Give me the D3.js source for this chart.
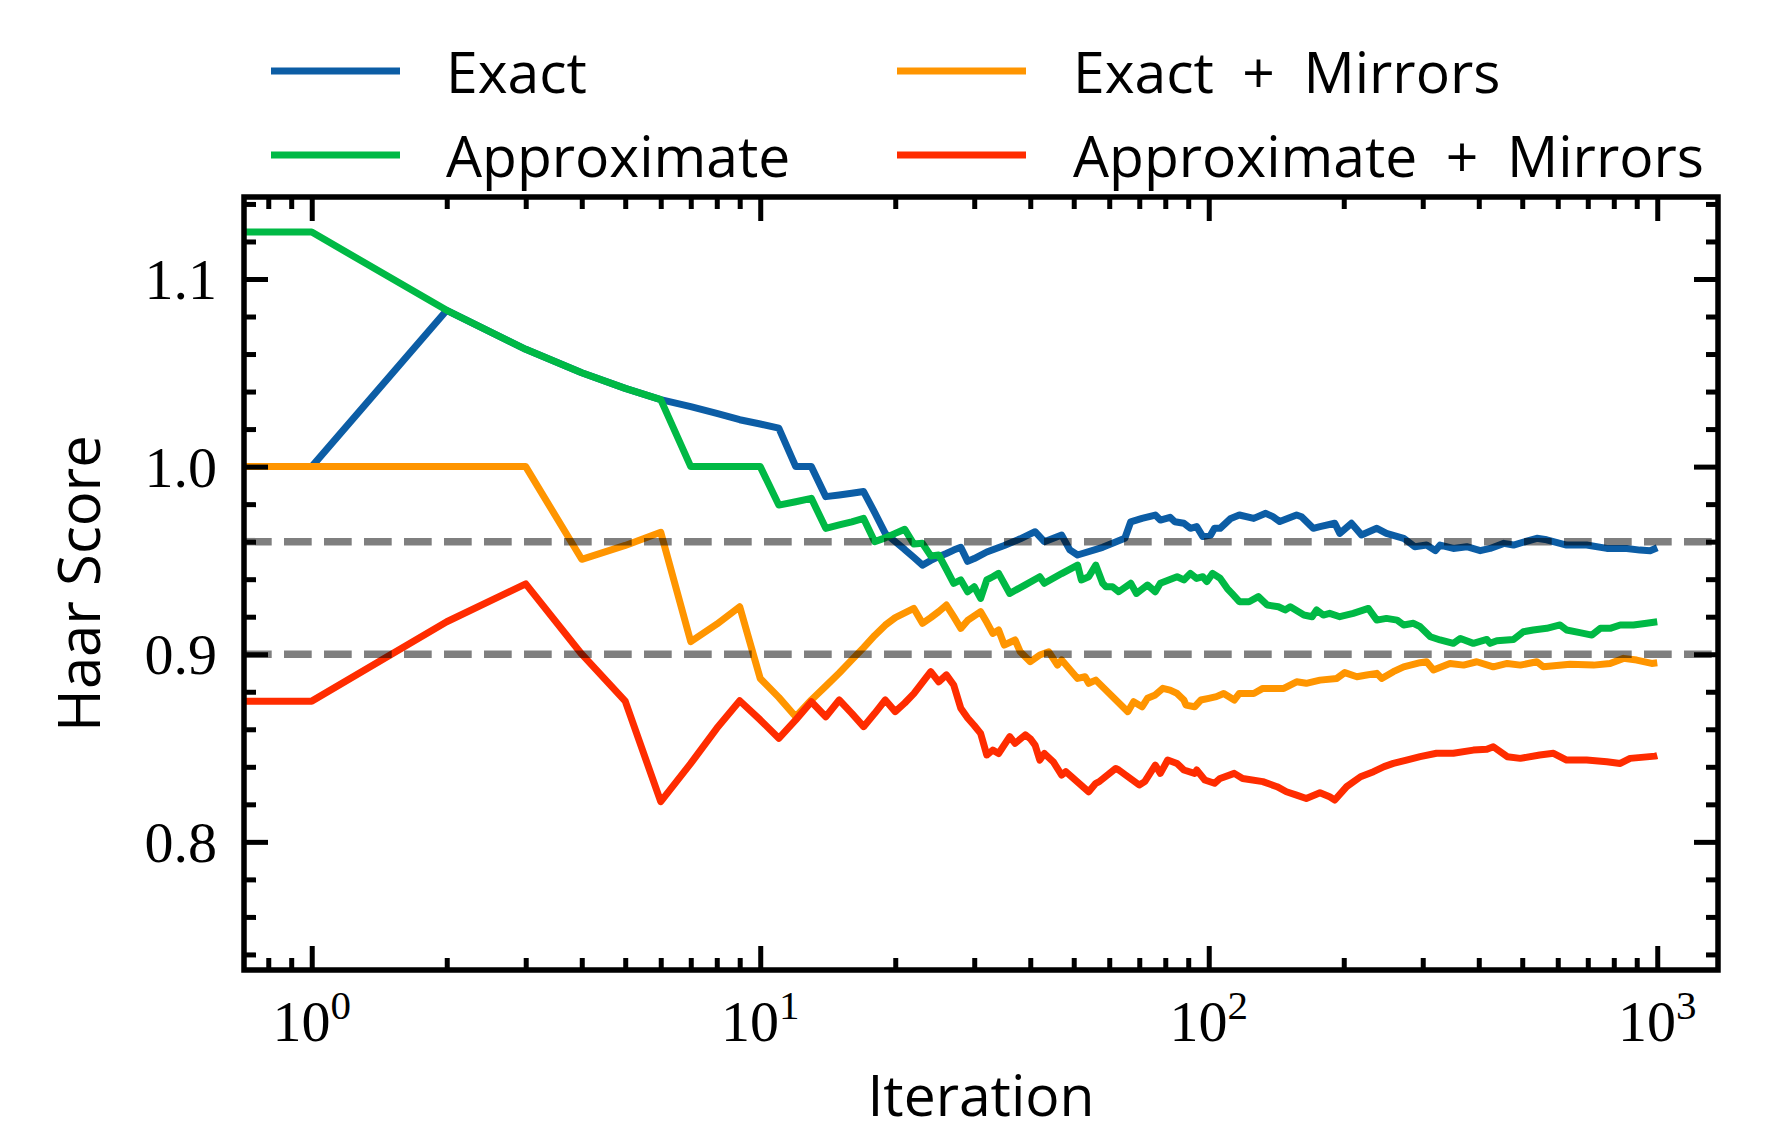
<!DOCTYPE html>
<html><head><meta charset="utf-8">
<script src="https://cdn.jsdelivr.net/npm/d3@7"></script>
<style>html,body{margin:0;padding:0;background:#fff;} svg{display:block;}</style>
</head><body><svg id="chart" width="1781" height="1132"></svg>
<script>
// ---------------- data ----------------
const seriesNames = ["Exact", "Approximate", "Exact\u2002+\u2002Mirrors", "Approximate\u2002+\u2002Mirrors"];
const seriesColors = ["#0C5DA5", "#00B945", "#FF9500", "#FF2C00"];

// [iteration, Haar score]
const exact = [[1,1.0],[2,1.0833],[3,1.0625],[4,1.05],[5,1.0417],[6,1.0357],[7,1.032],[8,1.0284],[9,1.025],[10,1.0227],[11,1.0205],[12,1.0],[13,1.0],[14,0.984],[15,0.9849],[16,0.9858],[17,0.9867],[18,0.9755],[19,0.9644],[20,0.960],[21,0.9558],[22,0.9516],[23,0.9475],[24,0.950],[25,0.952],[26,0.9537],[27,0.9555],[28,0.957],[29,0.9495],[30,0.951],[32,0.9545],[35,0.958],[38,0.9615],[41,0.9653],[43,0.96],[47,0.9635],[49,0.9556],[51,0.9529],[58,0.957],[65,0.9618],[67,0.9706],[71,0.9724],[76,0.9742],[78,0.9715],[82,0.973],[84,0.9706],[88,0.9698],[91,0.9671],[94,0.968],[97,0.9627],[101,0.9635],[103,0.9671],[106,0.9671],[112,0.9724],[117,0.9742],[126,0.9724],[134,0.9751],[139,0.9733],[144,0.9707],[157,0.9742],[161,0.9733],[171,0.9671],[177,0.968],[191,0.9698],[196,0.9644],[208,0.9698],[219,0.9636],[237,0.9671],[249,0.9644],[272,0.9618],[288,0.9573],[306,0.9582],[320,0.9552],[328,0.9582],[351,0.9564],[376,0.9573],[403,0.9552],[424,0.9564],[455,0.9591],[478,0.9582],[539,0.9618],[567,0.961],[628,0.9582],[696,0.9582],[772,0.9564],[855,0.9564],[915,0.9555],[964,0.9552],[1000,0.9568]];

const approximate = [[1,1.125],[2,1.0833],[3,1.0625],[4,1.05],[5,1.0417],[6,1.0357],[7,1.0],[8,1.0],[9,1.0],[10,1.0],[11,0.9795],[12,0.9813],[13,0.9831],[14,0.9671],[15,0.9689],[16,0.9706],[17,0.9724],[18,0.96],[19,0.962],[20,0.9644],[21,0.9666],[22,0.9587],[23,0.9591],[24,0.9524],[25,0.9529],[26,0.9453],[27,0.9378],[28,0.9396],[29,0.9333],[30,0.936],[31,0.9298],[32,0.9396],[33,0.9413],[34,0.9431],[36,0.9324],[39,0.937],[42,0.9413],[43,0.9378],[47,0.943],[51,0.9475],[52,0.9396],[54,0.9413],[56,0.9475],[58,0.9378],[59,0.936],[61,0.936],[63,0.9333],[67,0.9378],[69,0.9324],[73,0.9369],[76,0.9333],[78,0.9378],[85,0.9413],[88,0.9396],[91,0.9431],[94,0.9404],[97,0.9413],[99,0.9387],[102,0.9431],[106,0.9405],[110,0.935],[113,0.932],[117,0.928],[123,0.928],[129,0.9307],[135,0.9262],[143,0.9253],[148,0.9236],[152,0.9253],[163,0.9209],[170,0.92],[174,0.9236],[180,0.9209],[186,0.9218],[196,0.92],[210,0.9218],[227,0.9244],[237,0.9182],[249,0.9191],[263,0.9182],[272,0.9156],[286,0.9165],[296,0.9147],[312,0.9093],[328,0.9076],[351,0.9058],[364,0.9084],[389,0.9058],[417,0.9079],[424,0.9058],[439,0.9072],[478,0.9079],[503,0.912],[529,0.9129],[567,0.9138],[607,0.9156],[628,0.9129],[672,0.9115],[715,0.9102],[747,0.9138],[785,0.9138],[827,0.9156],[885,0.9156],[947,0.9165],[1000,0.9173]];

const exactMirrors = [[1,1.0],[2,1.0],[3,1.0],[4,0.9506],[5,0.958],[6,0.965],[7,0.9067],[8,0.916],[9,0.9253],[10,0.8871],[11,0.877],[12,0.8667],[13,0.8756],[14,0.883],[15,0.89],[16,0.897],[17,0.9035],[18,0.91],[19,0.9155],[20,0.9195],[21,0.922],[22,0.9244],[23,0.9165],[24,0.9195],[25,0.9227],[26,0.9262],[27,0.92],[28,0.9138],[29,0.918],[31,0.9227],[32,0.917],[33,0.9111],[34,0.9129],[35,0.9049],[37,0.9076],[38,0.9013],[40,0.896],[42,0.8996],[44,0.9013],[46,0.8942],[47,0.8969],[51,0.8871],[53,0.888],[54,0.8845],[56,0.8862],[66,0.8694],[68,0.8747],[71,0.872],[73,0.8765],[76,0.8783],[79,0.8818],[82,0.8809],[85,0.8791],[88,0.8756],[89,0.8729],[93,0.872],[96,0.8756],[100,0.8765],[104,0.8774],[108,0.8791],[114,0.8756],[117,0.8791],[126,0.8791],[132,0.8818],[147,0.8818],[157,0.8853],[165,0.8845],[177,0.8862],[193,0.8871],[201,0.8902],[214,0.888],[225,0.8889],[237,0.8898],[243,0.8871],[258,0.8907],[272,0.8933],[296,0.8955],[306,0.896],[317,0.8916],[345,0.8951],[370,0.8942],[396,0.896],[431,0.8933],[463,0.8951],[495,0.8942],[539,0.896],[557,0.8933],[639,0.8947],[721,0.8942],[785,0.8951],[841,0.8978],[900,0.8969],[972,0.8951],[1000,0.8955]];

const approximateMirrors = [[1,0.875],[2,0.9173],[3,0.9375],[4,0.9],[5,0.875],[6,0.8214],[7,0.8418],[8,0.8605],[9,0.8752],[10,0.865],[11,0.8552],[12,0.865],[13,0.8747],[14,0.8667],[15,0.8756],[16,0.8685],[17,0.8614],[18,0.8685],[19,0.8756],[20,0.8694],[21,0.874],[22,0.879],[23,0.885],[24,0.8907],[25,0.8853],[26,0.889],[27,0.8836],[28,0.8712],[29,0.866],[30,0.862],[31,0.8578],[32,0.8463],[33,0.8489],[34,0.8471],[36,0.8561],[37,0.8525],[39,0.857],[40,0.855],[41,0.8516],[42,0.8436],[43,0.8471],[45,0.8427],[47,0.8356],[48,0.8374],[54,0.8267],[56,0.8312],[57,0.8321],[62,0.8391],[63,0.8383],[70,0.8303],[72,0.8321],[76,0.8409],[78,0.8365],[81,0.8436],[85,0.8418],[88,0.8383],[93,0.8365],[94,0.8383],[98,0.833],[103,0.8312],[106,0.8338],[114,0.8365],[119,0.8338],[132,0.8321],[142,0.8294],[149,0.8267],[157,0.8249],[165,0.8231],[177,0.8262],[186,0.824],[191,0.8223],[203,0.8294],[218,0.8347],[233,0.8374],[246,0.8401],[258,0.8418],[276,0.8436],[296,0.8454],[322,0.8472],[351,0.8472],[389,0.8489],[417,0.8493],[431,0.8507],[463,0.8454],[495,0.8445],[547,0.8463],[587,0.8472],[628,0.8436],[696,0.8436],[772,0.8427],[827,0.8418],[870,0.8445],[989,0.8457],[1000,0.846]];

const referenceLines = [0.96, 0.9];
const yMajorTicks = [0.8, 0.9, 1.0, 1.1];
const yTickLabels = ["0.8", "0.9", "1.0", "1.1"];
const yMinorTicks = [0.74,0.76,0.78,0.82,0.84,0.86,0.88,0.92,0.94,0.96,0.98,1.02,1.04,1.06,1.08,1.12,1.14];
const xMajorTicks = [1, 10, 100, 1000];
const xTickExponents = ["0", "1", "2", "3"];
const xMinorTicks = [0.8,0.9,2,3,4,5,6,7,8,9,20,30,40,50,60,70,80,90,200,300,400,500,600,700,800,900];
const xLabel = "Iteration";
const yLabel = "Haar Score";

// ---------------- layout ----------------
const W = 1781, H = 1132;
const L = 244, R = 1718, T = 197, B = 970;
const SANS = "'Open Sans', sans-serif";
const SERIF = "'Liberation Serif', serif";

const svg = d3.select("#chart");
svg.append("rect").attr("width", W).attr("height", H).attr("fill", "#fff");

const x = d3.scaleLog().domain([0.7063, 1366]).range([L, R]);
const y = d3.scaleLinear().domain([0.7317, 1.1437]).range([B, T]);

svg.append("defs").append("clipPath").attr("id", "plotclip")
  .append("rect").attr("x", L).attr("y", T).attr("width", R - L).attr("height", B - T);

const allSeries = [exact, approximate, exactMirrors, approximateMirrors];
const line = d3.line().x(d => x(d[0])).y(d => y(d[1]));
const plot = svg.append("g").attr("clip-path", "url(#plotclip)");

allSeries.forEach((s, i) => {
  // the line enters from the left edge at the first value (iteration 0 clipped on log axis)
  const pts = [[x.domain()[0] * 0.9, s[0][1]]].concat(s);
  plot.append("path").datum(pts)
    .attr("d", line)
    .attr("fill", "none")
    .attr("stroke", seriesColors[i])
    .attr("stroke-width", 7)
    .attr("stroke-linejoin", "round")
    .attr("stroke-linecap", "butt");
});

referenceLines.forEach(v => {
  plot.append("line")
    .attr("x1", L).attr("x2", R)
    .attr("y1", y(v)).attr("y2", y(v))
    .attr("stroke", "#000").attr("stroke-opacity", 0.5)
    .attr("stroke-width", 7.5)
    .attr("stroke-dasharray", "27.7,12.3");
});

// ---------------- axes (ticks inward on all sides) ----------------
function styleAxis(g) {
  g.select(".domain").remove();
  g.selectAll(".tick line").attr("stroke", "#000").attr("stroke-width", 5);
  g.selectAll(".tick text").remove();
}
const majLen = 24, minLen = 12;
svg.append("g").attr("transform", `translate(0,${B})`)
  .call(d3.axisBottom(x).tickValues(xMajorTicks).tickSize(-majLen).tickFormat(""))
  .call(styleAxis);
svg.append("g").attr("transform", `translate(0,${B})`)
  .call(d3.axisBottom(x).tickValues(xMinorTicks).tickSize(-minLen).tickFormat(""))
  .call(styleAxis);
svg.append("g").attr("transform", `translate(0,${T})`)
  .call(d3.axisTop(x).tickValues(xMajorTicks).tickSize(-majLen).tickFormat(""))
  .call(styleAxis);
svg.append("g").attr("transform", `translate(0,${T})`)
  .call(d3.axisTop(x).tickValues(xMinorTicks).tickSize(-minLen).tickFormat(""))
  .call(styleAxis);
svg.append("g").attr("transform", `translate(${L},0)`)
  .call(d3.axisLeft(y).tickValues(yMajorTicks).tickSize(-majLen).tickFormat(""))
  .call(styleAxis);
svg.append("g").attr("transform", `translate(${L},0)`)
  .call(d3.axisLeft(y).tickValues(yMinorTicks).tickSize(-minLen).tickFormat(""))
  .call(styleAxis);
svg.append("g").attr("transform", `translate(${R},0)`)
  .call(d3.axisRight(y).tickValues(yMajorTicks).tickSize(-majLen).tickFormat(""))
  .call(styleAxis);
svg.append("g").attr("transform", `translate(${R},0)`)
  .call(d3.axisRight(y).tickValues(yMinorTicks).tickSize(-minLen).tickFormat(""))
  .call(styleAxis);

svg.append("rect").attr("x", L).attr("y", T).attr("width", R - L).attr("height", B - T)
  .attr("fill", "none").attr("stroke", "#000").attr("stroke-width", 5.5);

// tick labels
yMajorTicks.forEach((v, i) => {
  svg.append("text")
    .attr("x", L - 27).attr("y", y(v) + 20)
    .attr("text-anchor", "end")
    .attr("font-family", SERIF).attr("font-size", 58)
    .text(yTickLabels[i]);
});
xMajorTicks.forEach((v, i) => {
  const t = svg.append("text")
    .attr("x", x(v)).attr("y", B + 71)
    .attr("text-anchor", "middle")
    .attr("font-family", SERIF).attr("font-size", 58);
  t.append("tspan").text("10");
  t.append("tspan").attr("dy", -22).attr("font-size", 41).text(xTickExponents[i]);
});

// axis titles
svg.append("text")
  .attr("x", (L + R) / 2).attr("y", 1116)
  .attr("text-anchor", "middle")
  .attr("font-family", SANS).attr("font-size", 57)
  .text(xLabel);
svg.append("text")
  .attr("transform", `translate(100,${(T + B) / 2}) rotate(-90)`)
  .attr("text-anchor", "middle")
  .attr("font-family", SANS).attr("font-size", 58)
  .text(yLabel);

// ---------------- legend ----------------
const legendPos = [
  {lx: 271, tx: 446, ly: 71},
  {lx: 271, tx: 446, ly: 155},
  {lx: 897, tx: 1073, ly: 71},
  {lx: 897, tx: 1073, ly: 155}
];
seriesNames.forEach((name, i) => {
  const p = legendPos[i];
  svg.append("line")
    .attr("x1", p.lx).attr("x2", p.lx + 129)
    .attr("y1", p.ly).attr("y2", p.ly)
    .attr("stroke", seriesColors[i]).attr("stroke-width", 7);
  svg.append("text")
    .attr("x", p.tx).attr("y", p.ly + 22)
    .attr("font-family", SANS).attr("font-size", 57)
    .text(name);
});
</script>
</body></html>
